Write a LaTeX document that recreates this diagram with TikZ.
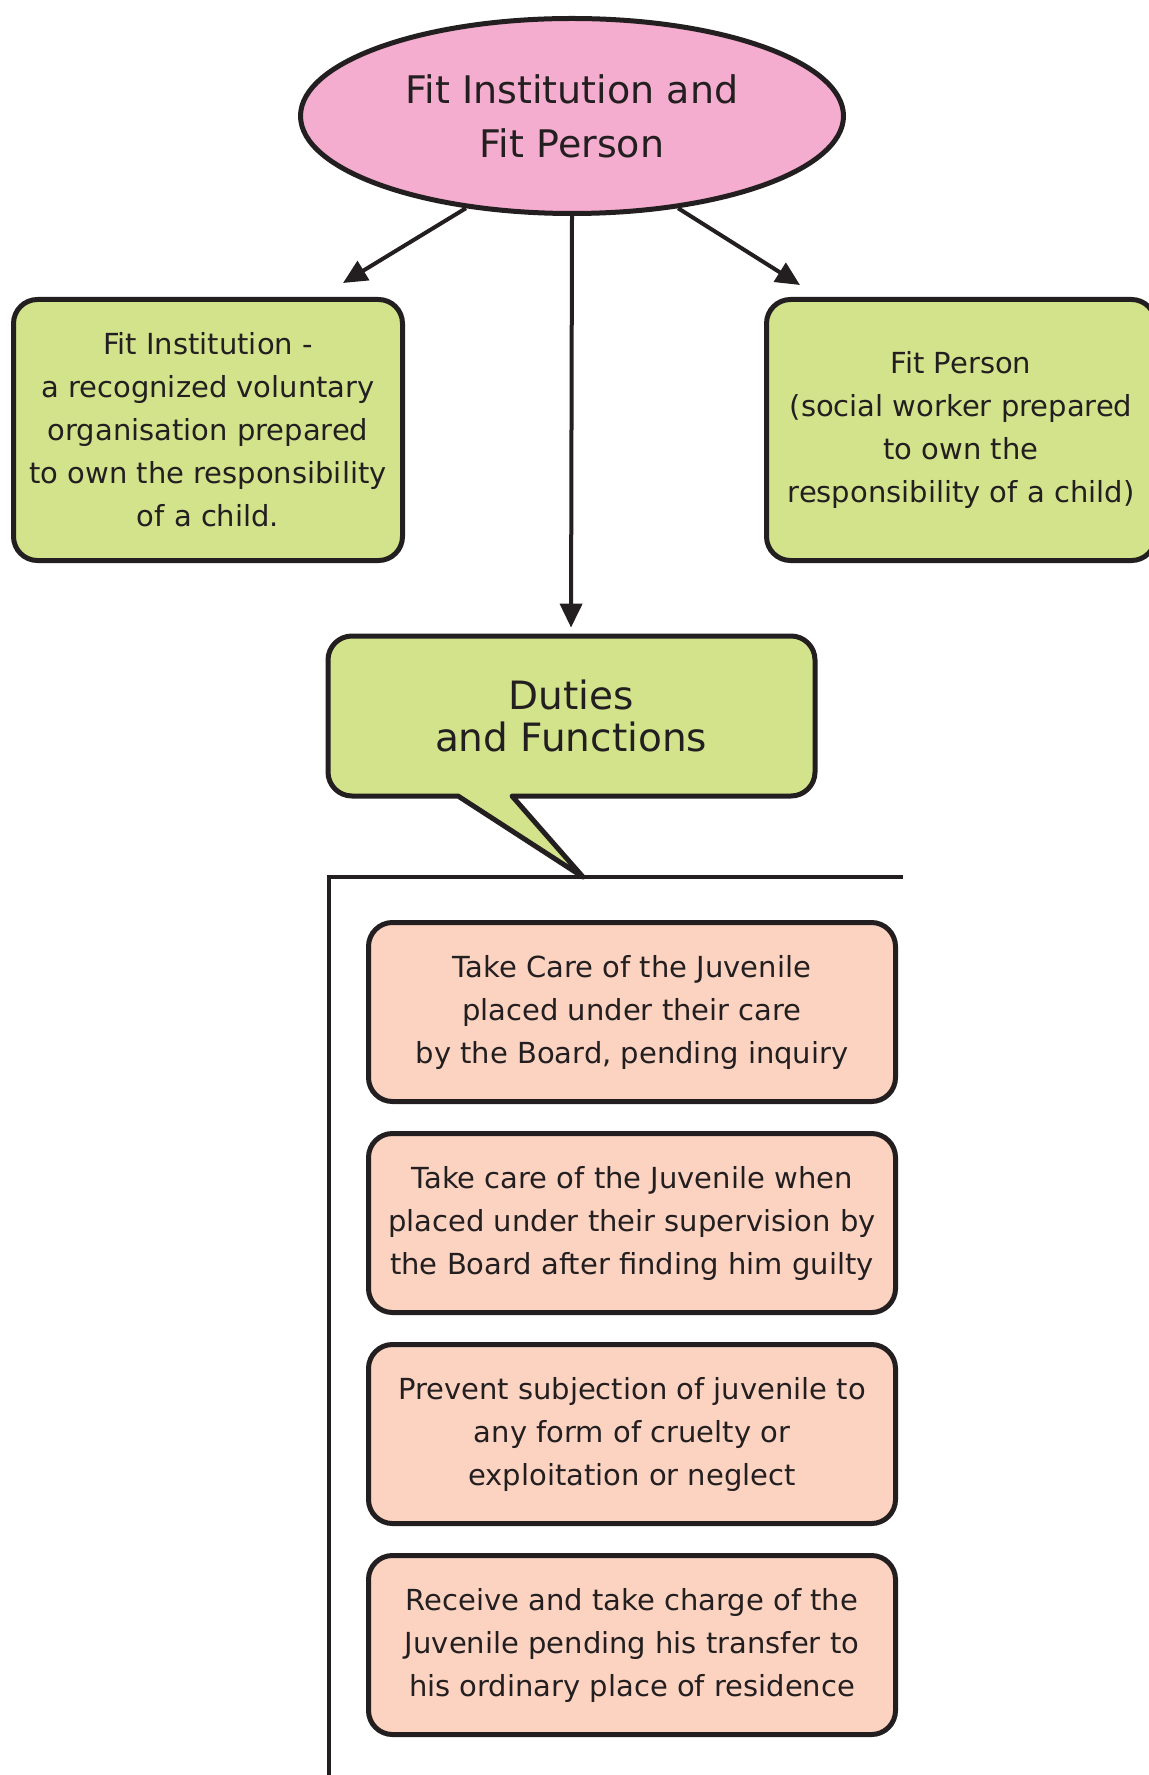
\documentclass[tikz,border=0pt]{standalone}
\usepackage{fontspec}
\setmainfont{DejaVu Sans}
\usetikzlibrary{arrows.meta,positioning,shapes.geometric}
\definecolor{inkline}{HTML}{231F20}
\definecolor{fitpink}{HTML}{F4ADCE}
\definecolor{fitgreen}{HTML}{D3E38B}
\definecolor{dutypink}{HTML}{FCD3C1}
\tikzset{%
   fitoval/.style={ellipse, draw=inkline, line width=2.5pt, fill=fitpink, text=inkline,
      minimum width=271.5pt, minimum height=97.5pt, align=center, font=\fontsize{19}{27}\selectfont},
   greenbox/.style={rectangle, rounded corners=12pt, draw=inkline, line width=2.5pt, fill=fitgreen,
      text=inkline, minimum width=194.5pt, minimum height=130.5pt, align=center,
      font=\fontsize{14.5}{21.5}\selectfont},
   dutybox/.style={rectangle, rounded corners=12pt, draw=inkline, line width=2.5pt, fill=dutypink,
      text=inkline, minimum width=263.5pt, minimum height=89.5pt, align=center,
      font=\fontsize{14.5}{21.5}\selectfont},
   callout/.style={draw=inkline, line width=2.5pt, fill=fitgreen, line join=round},
   link/.style={draw=inkline, line width=2pt, -{Triangle[length=12pt,width=11pt]}},
   bracket/.style={draw=inkline, line width=2pt},
}
\begin{document}
\begin{tikzpicture}[x=0.5pt, y=-0.5pt]
   \useasboundingbox (0,0) rectangle (1149,1775);
   \node[fitoval] (top) at (572,116) {Fit Institution and\\Fit Person};
   \node[greenbox] (inst) at (208,430) {Fit Institution -\\a recognized voluntary\\organisation prepared\\to own the responsibility\\of a child.};
   \node[greenbox] (person) at (961,430) {Fit Person\\(social worker prepared\\to own the\\responsibility of a child)};
   % speech bubble
   \coordinate (tip) at (583,877);
   \draw[callout] (tip) -- (512,796) [rounded corners=12pt] -- (815,796) -- (815,636)
      -- (328,636) -- (328,796) [sharp corners] -- (458,796) -- cycle;
   \node[minimum width=243pt, minimum height=80pt, align=center, text=inkline,
      font=\fontsize{19.5}{21}\selectfont] (duties) at (571,716) {Duties\\and Functions};
   % arrows
   \coordinate (lhead) at (343,283);
   \coordinate (rhead) at (800,285);
   \draw[link] (top.221) -- (lhead);
   \draw[link] (top.319) -- (rhead);
   \draw[link, shorten >=4pt] (top.south) -- (duties.north);
   % bracket
   \coordinate (brk) at (329,877);
   \coordinate (brkend) at (903,877);
   \coordinate (brkfoot) at (329,1780);
   \draw[bracket] (brkend) -- (brk) -- (brkfoot);
   % duties
   \node[dutybox] (d1) at (632,1012) {Take Care of the Juvenile\\placed under their care\\by the Board, pending inquiry};
   \node[dutybox, below=13.5pt of d1] (d2) {Take care of the Juvenile when\\placed under their supervision by\\the Board after finding him guilty};
   \node[dutybox, below=13.5pt of d2] (d3) {Prevent subjection of juvenile to\\any form of cruelty or\\exploitation or neglect};
   \node[dutybox, below=13.5pt of d3] (d4) {Receive and take charge of the\\Juvenile pending his transfer to\\his ordinary place of residence};
\end{tikzpicture}
\end{document}
